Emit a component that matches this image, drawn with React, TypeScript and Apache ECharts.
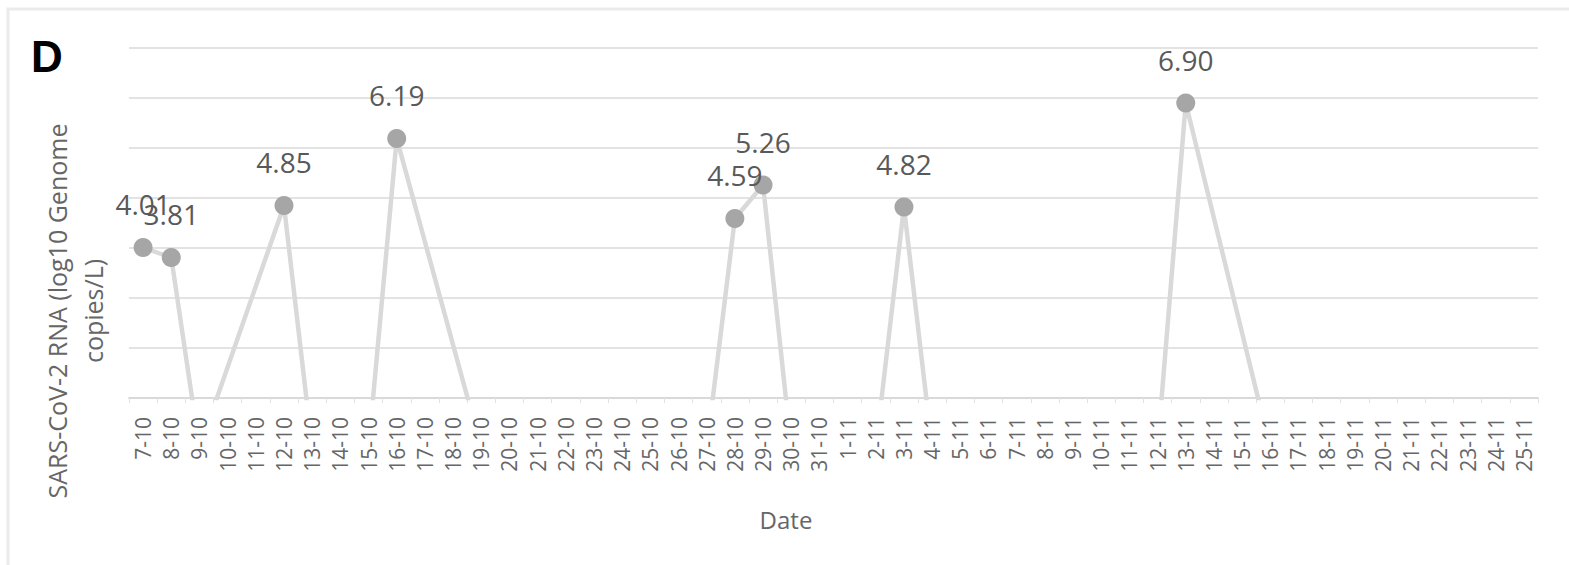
import React, { useEffect, useRef } from "react";
import * as echarts from "echarts";

const octoberDays: number[] = [7, 8, 9, 10, 11, 12, 13, 14, 15, 16, 17, 18, 19, 20, 21, 22, 23, 24, 25, 26, 27, 28, 29, 30, 31];
const novemberDays: number[] = [1, 2, 3, 4, 5, 6, 7, 8, 9, 10, 11, 12, 13, 14, 15, 16, 17, 18, 19, 20, 21, 22, 23, 24, 25];
const dates: string[] = [
  ...octoberDays.map((d) => `${d}-10`),
  ...novemberDays.map((d) => `${d}-11`),
];

// SARS-CoV-2 RNA (log10 genome copies/L); 0 = below detection, null = no sample
const octoberValues: (number | null)[] = [
  4.01, 3.81, 0, null, null, 4.85, 0, 0, 0, 6.19, null, null, 0, 0, 0, 0, 0, 0, 0, 0, 0, 4.59, 5.26, 0, 0,
];
const novemberValues: (number | null)[] = [
  0, 0, 4.82, 0, 0, 0, 0, 0, 0, 0, 0, 0, 6.9, null, null, 0, 0, 0, 0, 0, 0, 0, 0, 0, 0,
];
const rnaValues: (number | null)[] = [...octoberValues, ...novemberValues];

const yMin = 1;
const yMax = 8;
const yInterval = 1;

const panelLetter = "D";
const yAxisTitle = "SARS-CoV-2 RNA (log10 Genome\ncopies/L)";
const xAxisTitle = "Date";

const FONT = "'Open Sans', 'Liberation Sans', sans-serif";

export default function App() {
  const ref = useRef<HTMLDivElement>(null);

  useEffect(() => {
    if (!ref.current) return;
    const chart = echarts.init(ref.current, undefined, { renderer: "svg" });

    const seriesData = rnaValues.map((v) => {
      if (v === null) return null;
      if (v < yMin) return { value: v, symbol: "none", label: { show: false } };
      return v;
    });

    chart.setOption({
      animation: false,
      backgroundColor: "#ffffff",
      grid: { left: 129, right: 31, top: 48, bottom: 167, containLabel: false },
      xAxis: {
        type: "category",
        data: dates,
        boundaryGap: true,
        axisLine: { show: true, lineStyle: { color: "#d9d9d9", width: 2 } },
        axisTick: { show: true, length: 5, lineStyle: { color: "#e2e2e2", width: 1 } },
        axisLabel: {
          interval: 0,
          rotate: 90,
          margin: 19,
          fontSize: 21,
          fontFamily: FONT,
          color: "#666666",
        },
        splitLine: { show: false },
      },
      yAxis: {
        type: "value",
        min: yMin,
        max: yMax,
        interval: yInterval,
        axisLine: { show: false },
        axisTick: { show: false },
        axisLabel: { show: false },
        splitLine: { show: true, lineStyle: { color: "#e3e3e3", width: 2 } },
      },
      series: [
        {
          type: "line",
          data: seriesData,
          connectNulls: true,
          clip: true,
          symbol: "circle",
          symbolSize: 19,
          itemStyle: { color: "#a6a6a6" },
          lineStyle: { color: "#d9d9d9", width: 4.5 },
          label: {
            show: true,
            position: "top",
            distance: 20,
            fontSize: 28,
            fontFamily: FONT,
            color: "#595959",
            formatter: (p: any) =>
              typeof p.value === "number" && p.value >= yMin ? p.value.toFixed(2) : "",
          },
          z: 3,
        },
      ],
      graphic: [
        {
          type: "rect",
          shape: { x: 8, y: 9, width: 1600, height: 600 },
          style: { fill: "none", stroke: "#ebebeb", lineWidth: 3 },
          silent: true,
        },
        {
          type: "text",
          x: 47,
          y: 56,
          style: {
            text: panelLetter,
            fontSize: 44,
            fontWeight: "bold",
            fontFamily: "'Liberation Sans', Arial, sans-serif",
            fill: "#000000",
            align: "center",
            verticalAlign: "middle",
          },
        },
        {
          type: "text",
          x: 75,
          y: 311,
          rotation: Math.PI / 2,
          style: {
            text: yAxisTitle,
            fontSize: 25,
            lineHeight: 36,
            fontFamily: FONT,
            fill: "#666666",
            align: "center",
            verticalAlign: "middle",
          },
        },
        {
          type: "text",
          x: 786,
          y: 519,
          style: {
            text: xAxisTitle,
            fontSize: 24,
            fontFamily: FONT,
            fill: "#666666",
            align: "center",
            verticalAlign: "middle",
          },
        },
      ],
    });

    return () => {
      chart.dispose();
    };
  }, []);

  return (
    <div
      ref={ref}
      style={{ position: "fixed", left: 0, top: 0, width: 1569, height: 565 }}
    />
  );
}
